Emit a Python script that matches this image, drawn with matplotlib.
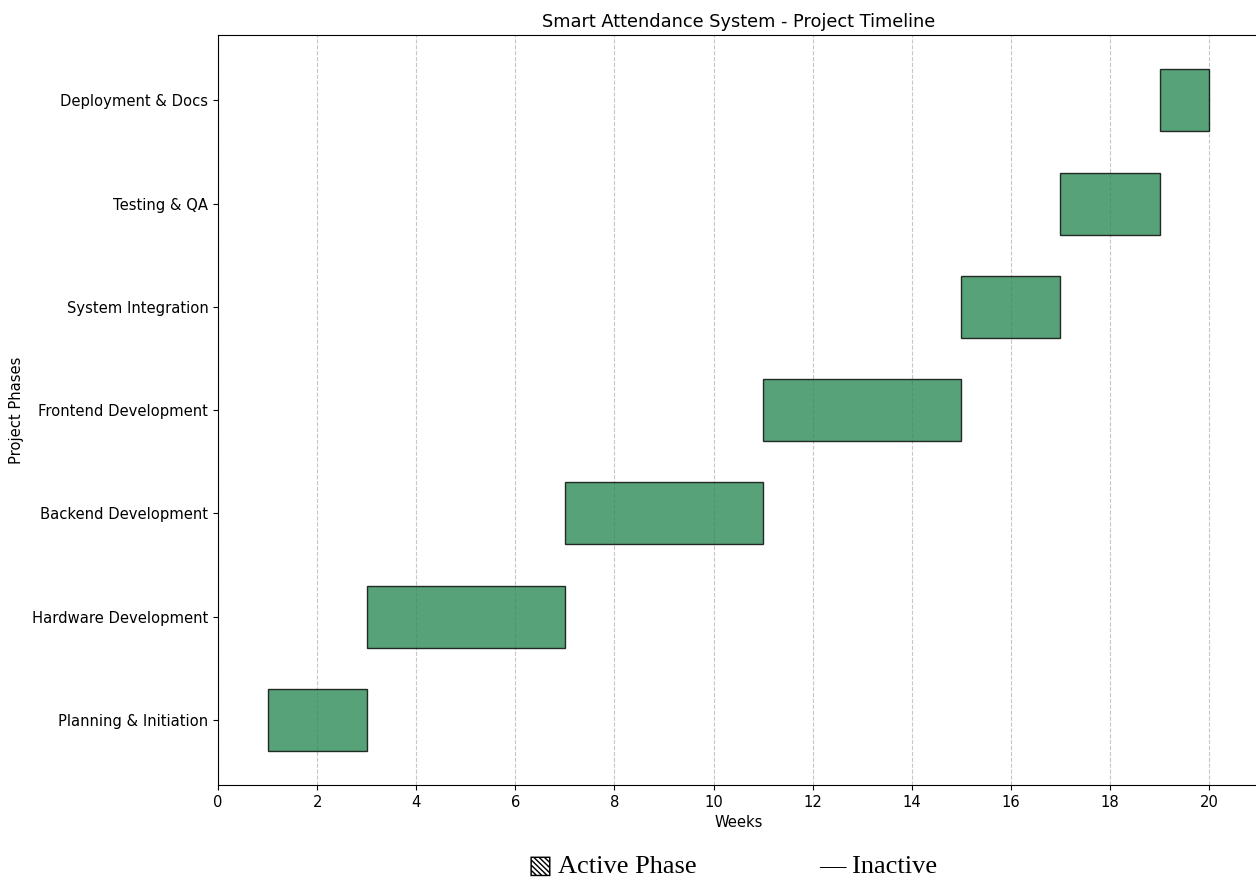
import matplotlib
matplotlib.use("Agg")
import matplotlib.pyplot as plt

phases = ["Planning & Initiation", "Hardware Development", "Backend Development",
          "Frontend Development", "System Integration", "Testing & QA",
          "Deployment & Docs"]
start_week = [1, 3, 7, 11, 15, 17, 19]
duration = [2, 4, 4, 4, 2, 2, 1]
week_ticks = [0, 2, 4, 6, 8, 10, 12, 14, 16, 18, 20]

plt.rcParams["font.size"] = 10.6

fig = plt.figure(figsize=(12.56, 8.81), dpi=100)
ax = fig.add_axes([0.1736, 0.109, 0.8285, 0.851])

ax.barh(phases, duration, left=start_week, height=0.6,
        color="seagreen", edgecolor="black", alpha=0.8)

ax.set_xlim(0, 21)
ax.set_xticks(week_ticks)
ax.set_xlabel("Weeks")
ax.set_ylabel("Project Phases", labelpad=6)
ax.set_title("Smart Attendance System - Project Timeline", fontsize=12.8)
ax.grid(axis="x", linestyle="--", alpha=0.7)
ax.set_axisbelow(True)

fig.text(0.420, 0.016, "\u25a7 Active Phase", fontsize=19, va="center",
         family=["Liberation Serif", "DejaVu Sans"])
fig.text(0.652, 0.016, "\u2014 Inactive", fontsize=19, va="center",
         family=["Liberation Serif", "DejaVu Sans"])

fig.savefig("out.png", dpi=100)
